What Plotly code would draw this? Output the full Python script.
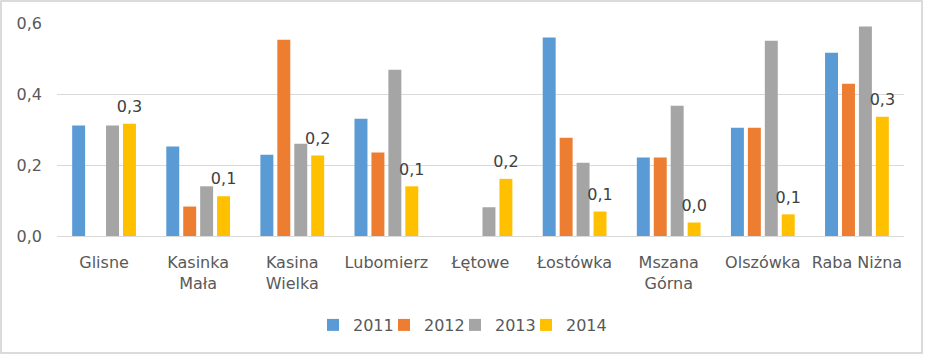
import plotly.graph_objects as go

categories = ["Glisne", "Kasinka<br>Mała", "Kasina<br>Wielka", "Lubomierz", "Łętowe",
              "Łostówka", "Mszana<br>Górna", "Olszówka", "Raba Niżna"]
years = ["2011", "2012", "2013", "2014"]
v2011 = [0.311, 0.252, 0.229, 0.330, None, 0.559, 0.221, 0.305, 0.516]
v2012 = [None, 0.083, 0.553, 0.235, None, 0.277, 0.221, 0.305, 0.429]
v2013 = [0.311, 0.140, 0.260, 0.468, 0.081, 0.206, 0.367, 0.550, 0.590]
v2014 = [0.316, 0.112, 0.227, 0.140, 0.161, 0.069, 0.038, 0.061, 0.336]
colors = ["#5B9BD5", "#ED7D31", "#A5A5A5", "#FFC000"]
series = [v2011, v2012, v2013, v2014]

FONT = "DejaVu Sans"
W, H = 929, 356
L, R, T, B = 57, 25, 23, 120
pw, ph = W - L - R, H - T - B


def px2x(p):
    return (p - L) / pw


def py2y(p):
    return (H - B - p) / ph


legend_ids = ["legend", "legend2", "legend3", "legend4"]

fig = go.Figure()
for i, (name, vals, col) in enumerate(zip(years, series, colors)):
    kw = {}
    if name == "2014":
        kw = dict(texttemplate="<span style='font-size:16px'>%{y:.1f}</span><br><span style='font-size:6px'>&nbsp;</span>",
                  textposition="outside",
                  textfont=dict(family=FONT, size=6, color="#404040"),
                  constraintext="none", cliponaxis=False)
    fig.add_trace(go.Bar(x=categories, y=vals, name=name, marker_color=col,
                         marker_line_width=0, legend=legend_ids[i], **kw))

legends = {}
for i, lid in enumerate(legend_ids):
    legends[lid] = dict(orientation="h", x=px2x(313 + 71 * i), xanchor="left",
                        y=py2y(308), yanchor="top",
                        font=dict(family=FONT, size=16, color="#595959"),
                        bgcolor="rgba(0,0,0,0)")

fig.update_layout(
    width=W, height=H,
    margin=dict(l=L, r=R, t=T, b=B, pad=0, autoexpand=False),
    barmode="group", bargap=0.28, bargroupgap=0.235,
    separators=",.",
    paper_bgcolor="white", plot_bgcolor="white",
    font=dict(family=FONT, size=16, color="#595959"),
    showlegend=True,
    xaxis=dict(showgrid=False, showline=True, linecolor="#D9D9D9", linewidth=1,
               ticks="", ticklabelstandoff=12, automargin=False,
               tickfont=dict(family=FONT, size=16, color="#595959")),
    yaxis=dict(range=[0, 0.6], dtick=0.2, tickformat=".1f", showgrid=True,
               gridcolor="#D9D9D9", gridwidth=1, zeroline=False, showline=False,
               ticks="", ticklabelstandoff=14, automargin=False,
               tickfont=dict(family=FONT, size=16, color="#595959")),
    shapes=[dict(type="rect", xref="paper", yref="paper",
                 x0=px2x(1), x1=px2x(922), y0=py2y(353), y1=py2y(1),
                 line=dict(color="#D0D0D0", width=1.5), layer="below")],
    **legends,
)

fig.write_html("out.html", config={"displayModeBar": False},
               post_script="document.body.style.margin='0';")
